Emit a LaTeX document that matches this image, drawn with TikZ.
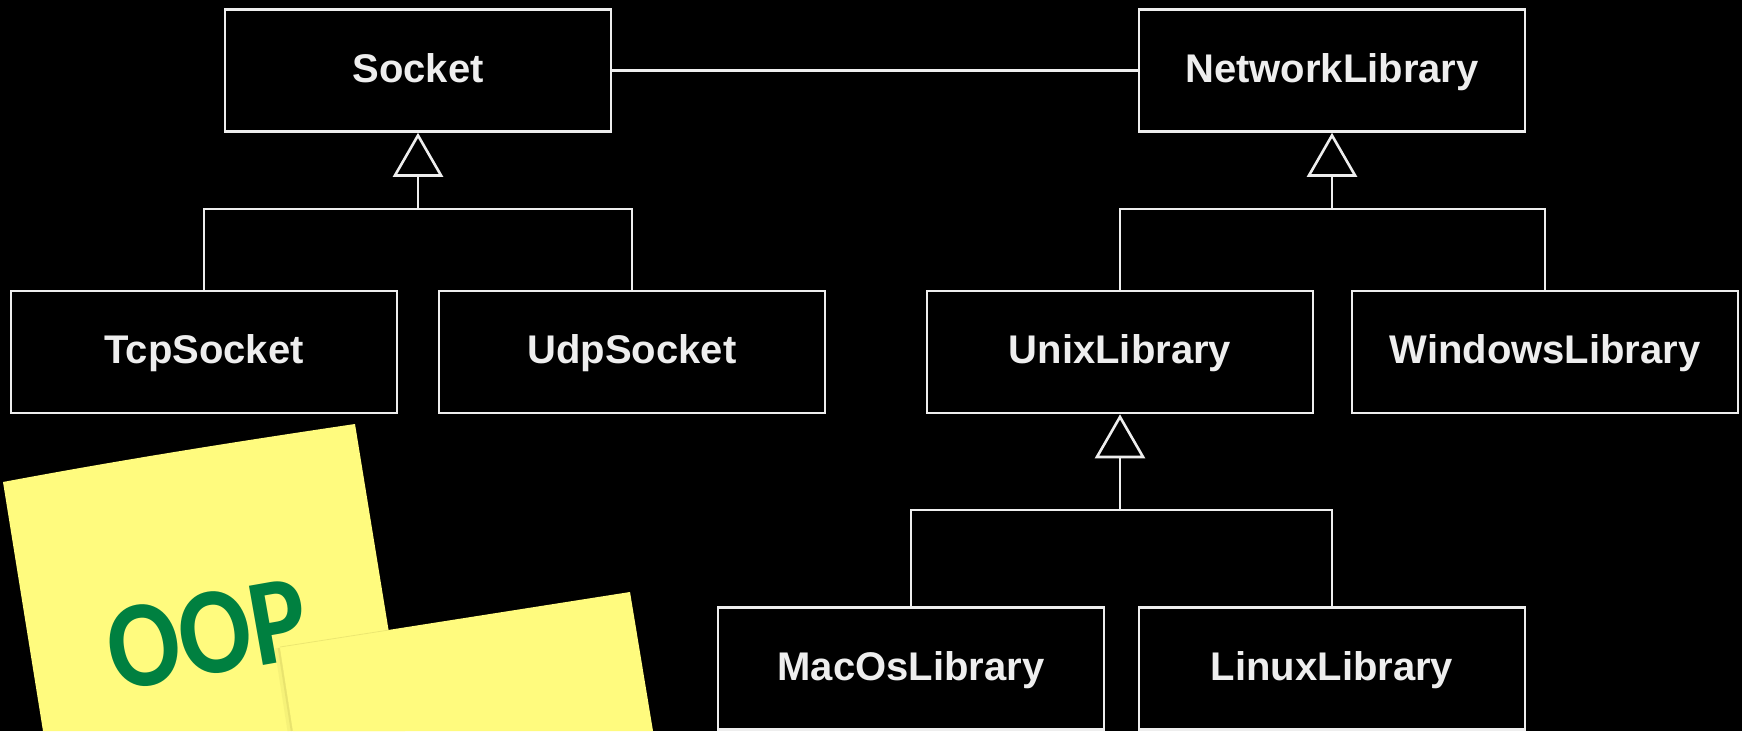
\documentclass[tikz,border=0pt]{standalone}
\usepackage{fontspec}
\setmainfont{Liberation Sans}
\newfontfamily\notefont{Carlito}
\usetikzlibrary{arrows.meta}
\definecolor{lineW}{HTML}{EEEEEE}
\definecolor{noteY}{HTML}{FFFB7E}
\definecolor{noteG}{HTML}{008040}
\definecolor{noteS}{HTML}{C9C25A}
\begin{document}
\begin{tikzpicture}[x=1pt,y=-1pt,
  cls/.style={draw=lineW, line width=2.6pt, minimum width=386pt, minimum height=122pt,
    inner sep=0pt, text=lineW, text height=23pt, text depth=0pt,
    font=\bfseries\fontsize{40}{48}\selectfont},
  wire/.style={draw=lineW, line width=2.6pt},
  gen/.style={wire, -{Triangle[open,length=44pt,width=50pt]}},
  stickynote/.style={fill=noteY}
]
\fill[black] (0,0) rectangle (1742,731);
\useasboundingbox (0,0) rectangle (1742,731);

% classes
\node[cls] (socket) at (418,70.5) {Socket};
\node[cls] (netlib) at (1332,70.5) {NetworkLibrary};
\node[cls] (tcp) at (204,352) {TcpSocket};
\node[cls] (udp) at (632,352) {UdpSocket};
\node[cls] (unix) at (1120,352) {UnixLibrary};
\node[cls] (win) at (1545,352) {WindowsLibrary};
\node[cls] (mac) at (911,668.5) {MacOsLibrary};
\node[cls] (linux) at (1332,668.5) {LinuxLibrary};

% association
\draw[wire] (socket.east) -- (netlib.west);

% generalisations
\coordinate (sj) at (418,209);
\draw[wire] (tcp.north) |- (sj) -| (udp.north);
\draw[gen] (sj) -- (socket.south);

\coordinate (nj) at (1332,209);
\draw[wire] (unix.north) |- (nj) -| (win.north);
\draw[gen] (nj) -- (netlib.south);

\coordinate (uj) at (1120,510);
\draw[wire] (mac.north) |- (uj) -| (linux.north);
\draw[gen] (uj) -- (unix.south);

% sticky notes
\path[stickynote] (3,482) .. controls (120,460) and (240,441) .. (355,424) -- (405,731) -- (43,731) -- cycle;
\node[text=noteG, font=\notefont\bfseries\fontsize{124}{124}\selectfont, rotate=10, xscale=0.86, inner sep=0pt] (oop) at (207,634) {OOP};
\draw[noteS, line width=5pt, opacity=0.15] (277,648) -- (290,731);
\draw[noteS, line width=2.5pt, opacity=0.3] (279,648) -- (292,731);
\path[stickynote] (280,647) -- (630,592) -- (653,731) -- (293,731) -- cycle;
\draw[noteS, line width=0.8pt, opacity=0.35] (280,647) -- (389,630);
\end{tikzpicture}
\end{document}
